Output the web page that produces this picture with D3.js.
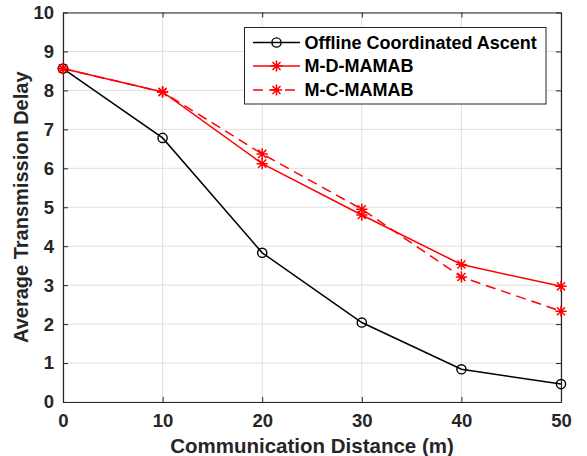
<!DOCTYPE html>
<html>
<head>
<meta charset="utf-8">
<script src="https://cdn.jsdelivr.net/npm/d3@7"></script>
<style>
  html, body { margin: 0; padding: 0; background: #fff; }
  svg { display: block; }
  text { font-family: "Liberation Sans", Arial, sans-serif; font-weight: bold; }
</style>
</head>
<body>
<svg id="chart" width="587" height="456"></svg>
<script>
// ---- Data ----
const distances = [0, 10, 20, 30, 40, 50];
const offlineDelay = [8.56, 6.78, 3.83, 2.04, 0.84, 0.46];
const mdDelay = [8.56, 7.96, 6.12, 4.80, 3.53, 2.97];
const mcDelay = [8.56, 7.96, 6.37, 4.95, 3.21, 2.33];
const xTicks = [0, 10, 20, 30, 40, 50];
const yTicks = [0, 1, 2, 3, 4, 5, 6, 7, 8, 9, 10];
const seriesNames = ["Offline Coordinated Ascent", "M-D-MAMAB", "M-C-MAMAB"];
const xLabel = "Communication Distance (m)";
const yLabel = "Average Transmission Delay";

const series = [
  { name: seriesNames[0], values: offlineDelay, color: "#000000", dash: null, marker: "circle" },
  { name: seriesNames[1], values: mdDelay, color: "#ff0000", dash: null, marker: "star" },
  { name: seriesNames[2], values: mcDelay, color: "#ff0000", dash: "10,6", marker: "star" }
];

// ---- Layout ----
const svg = d3.select("#chart");
const L = 63, R = 561, T = 12.5, B = 402;
const x = d3.scaleLinear().domain([0, 50]).range([L, R]);
const y = d3.scaleLinear().domain([0, 10]).range([B, T]);
const axisColor = "#262626";

// grid
const grid = svg.append("g");
grid.selectAll("line.gx").data(xTicks).join("line")
  .attr("x1", d => x(d)).attr("x2", d => x(d)).attr("y1", T).attr("y2", B)
  .attr("stroke", "#dfdfdf").attr("stroke-width", 1);
grid.selectAll("line.gy").data(yTicks).join("line")
  .attr("x1", L).attr("x2", R).attr("y1", d => y(d)).attr("y2", d => y(d))
  .attr("stroke", "#dfdfdf").attr("stroke-width", 1);

// axes
const tickLen = 5;
const xAxisB = d3.axisBottom(x).tickValues(xTicks).tickSizeInner(-tickLen).tickSizeOuter(0).tickPadding(12);
const xAxisT = d3.axisTop(x).tickValues(xTicks).tickSizeInner(-tickLen).tickSizeOuter(0).tickFormat("");
const yAxisL = d3.axisLeft(y).tickValues(yTicks).tickSizeInner(-tickLen).tickSizeOuter(0).tickPadding(9);
const yAxisR = d3.axisRight(y).tickValues(yTicks).tickSizeInner(-tickLen).tickSizeOuter(0).tickFormat("");

function styleAxis(g) {
  g.select(".domain").attr("stroke", axisColor).attr("stroke-width", 1.2);
  g.selectAll(".tick line").attr("stroke", axisColor).attr("stroke-width", 1);
  g.selectAll(".tick text").attr("fill", axisColor).style("font-size", "18.5px")
    .style("font-family", "'Liberation Sans', Arial, sans-serif").style("font-weight", "bold");
}
svg.append("g").attr("transform", `translate(0,${B})`).call(xAxisB).call(styleAxis);
svg.append("g").attr("transform", `translate(0,${T})`).call(xAxisT).call(styleAxis);
svg.append("g").attr("transform", `translate(${L},0)`).call(yAxisL).call(styleAxis);
svg.append("g").attr("transform", `translate(${R},0)`).call(yAxisR).call(styleAxis);

// lines
const line = d3.line().x((d, i) => x(distances[i])).y(d => y(d));
series.forEach(s => {
  svg.append("path").datum(s.values)
    .attr("d", line).attr("fill", "none")
    .attr("stroke", s.color).attr("stroke-width", 1.5)
    .attr("stroke-dasharray", s.dash);
});

function drawMarker(g, type, cx, cy, color) {
  if (type === "circle") {
    g.append("circle").attr("cx", cx).attr("cy", cy).attr("r", 4.6)
      .attr("fill", "none").attr("stroke", color).attr("stroke-width", 1.4);
  } else {
    const r = 5.6, d = r * 0.72;
    const p = `M${cx - r},${cy}L${cx + r},${cy}M${cx},${cy - r}L${cx},${cy + r}` +
      `M${cx - d},${cy - d}L${cx + d},${cy + d}M${cx - d},${cy + d}L${cx + d},${cy - d}`;
    g.append("path").attr("d", p).attr("stroke", color).attr("stroke-width", 1.5).attr("fill", "none");
  }
}
series.forEach(s => {
  const g = svg.append("g");
  s.values.forEach((v, i) => drawMarker(g, s.marker, x(distances[i]), y(v), s.color));
});

// axis labels
svg.append("text").attr("x", (L + R) / 2).attr("y", 453).attr("text-anchor", "middle")
  .attr("fill", axisColor).style("font-size", "20.5px").text(xLabel);
svg.append("text").attr("transform", `translate(27.5,${(T + B) / 2}) rotate(-90)`)
  .attr("text-anchor", "middle").attr("fill", axisColor).style("font-size", "20px").text(yLabel);

// legend
const lg = svg.append("g");
lg.append("rect").attr("x", 244.5).attr("y", 27.5).attr("width", 301.5).attr("height", 76.5)
  .attr("fill", "#fff").attr("stroke", axisColor).attr("stroke-width", 1);
const rowY = [42.5, 66, 90];
series.forEach((s, i) => {
  const yy = rowY[i];
  lg.append("line").attr("x1", 253).attr("x2", 300).attr("y1", yy).attr("y2", yy)
    .attr("stroke", s.color).attr("stroke-width", 1.5).attr("stroke-dasharray", s.dash);
  drawMarker(lg, s.marker, 276.5, yy, s.color);
  lg.append("text").attr("x", 304.5).attr("y", yy).attr("dy", "0.35em")
    .attr("fill", "#000").style("font-size", "18px").text(s.name);
});
</script>
</body>
</html>
